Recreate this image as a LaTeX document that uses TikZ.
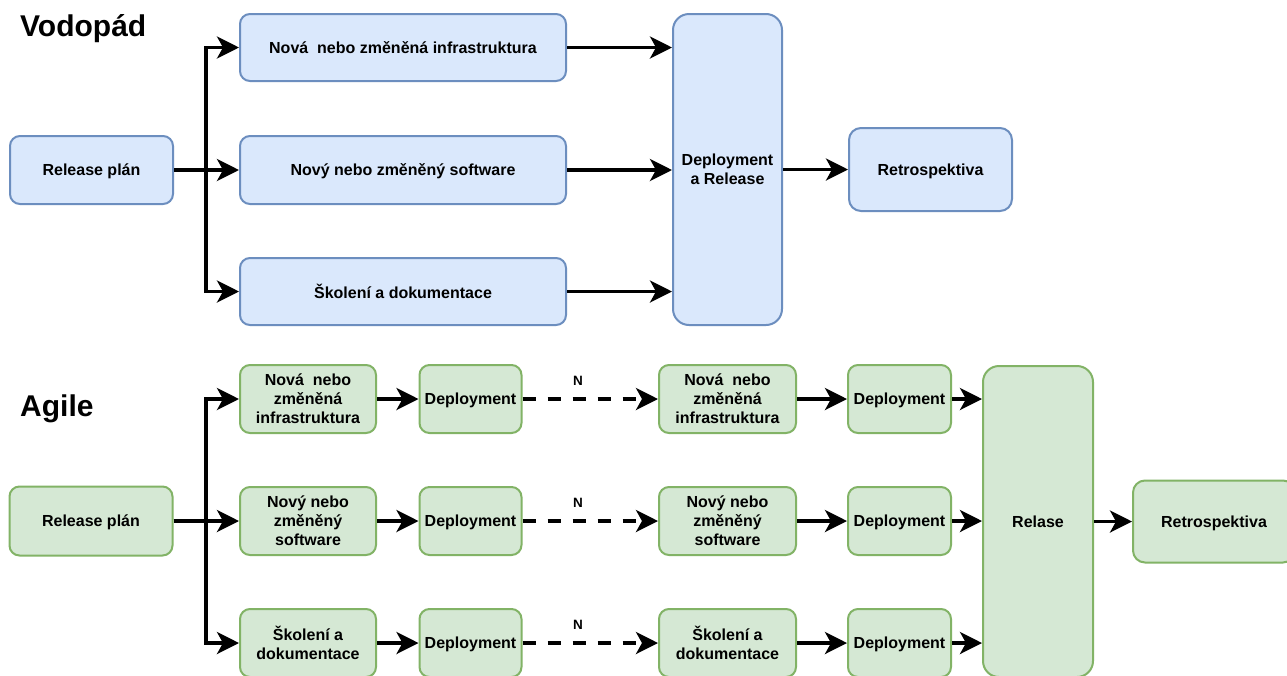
\documentclass[tikz,border=0pt]{standalone}
\usepackage{fontspec}
\setmainfont{Liberation Sans}
\usetikzlibrary{arrows.meta}

\definecolor{wfFill}{HTML}{DAE8FC}
\definecolor{wfLine}{HTML}{6C8EBF}
\definecolor{agFill}{HTML}{D5E8D4}
\definecolor{agLine}{HTML}{82B366}

\tikzset{
  box/.style={rectangle, rounded corners=10pt, line width=2pt, inner sep=0pt,
    text depth=0pt, align=center, font=\fontsize{16}{19}\selectfont\bfseries},
  wf/.style={box, draw=wfLine, fill=wfFill},
  ag/.style={box, draw=agLine, fill=agFill},
  arr/.style={line width=3.5pt, -{Stealth[length=22pt,width=22pt,inset=6pt]}},
  darr/.style={arr, dash pattern=on 13pt off 12pt},
  heading/.style={font=\fontsize{30}{36}\selectfont\bfseries, anchor=base west, inner sep=0pt},
  nlabel/.style={font=\fontsize{13.5}{16}\selectfont\bfseries, inner sep=0pt}
}

\begin{document}
\begin{tikzpicture}[x=1pt,y=-1pt]
\useasboundingbox (0,0) rectangle (1287,675);
\fill[white] (0,0) rectangle (1287,675);
\clip (0,0) rectangle (1287,675);

% ---------- Waterfall ----------
\node[heading] (tWf) at (20,36) {Vodopád};

\node[wf, minimum width=163pt, minimum height=68pt] (rp1) at (91.5,170) {Release plán};
\node[wf, minimum width=326pt, minimum height=67pt] (inf1) at (403,47.5) {Nová\ \ nebo změněná infrastruktura};
\node[wf, minimum width=326pt, minimum height=68pt] (sw1) at (403,170) {Nový nebo změněný software};
\node[wf, minimum width=326pt, minimum height=67pt] (sk1) at (403,291.5) {Školení a dokumentace};
\node[wf, rounded corners=16pt, minimum width=109pt, minimum height=311pt] (dr1) at (727.5,169.5) {Deployment\\a Release};
\node[wf, rounded corners=12pt, minimum width=163pt, minimum height=83pt] (re1) at (930.5,169.5) {Retrospektiva};

\coordinate (j1) at (206,170);
\draw[arr] (rp1.east) -- (j1) |- (inf1.west);
\draw[arr] (rp1.east) -- (sw1.west);
\draw[arr] (j1) |- (sk1.west);

\draw[arr] (inf1.east) -- (inf1.east -| dr1.west);
\draw[arr] (sw1.east) -- (sw1.east -| dr1.west);
\draw[arr] (sk1.east) -- (sk1.east -| dr1.west);
\draw[arr] (dr1.east |- re1.west) -- (re1.west);

% ---------- Agile ----------
\node[heading] (tAg) at (20,416.5) {Agile};

\node[ag, minimum width=163pt, minimum height=69pt] (rp2) at (91,521) {Release plán};

\node[ag, minimum width=136pt, minimum height=68pt] (a1) at (308,399) {Nová\ \ nebo\\změněná\\infrastruktura};
\node[ag, minimum width=136pt, minimum height=68pt] (a2) at (308,521) {Nový nebo\\změněný\\software};
\node[ag, minimum width=136pt, minimum height=68pt] (a3) at (308,643) {Školení a\\dokumentace};

\node[ag, minimum width=102pt, minimum height=68pt] (d1) at (470.5,399) {Deployment};
\node[ag, minimum width=102pt, minimum height=68pt] (d2) at (470.5,521) {Deployment};
\node[ag, minimum width=102pt, minimum height=68pt] (d3) at (470.5,643) {Deployment};

\node[ag, minimum width=137pt, minimum height=68pt] (b1) at (727.5,399) {Nová\ \ nebo\\změněná\\infrastruktura};
\node[ag, minimum width=137pt, minimum height=68pt] (b2) at (727.5,521) {Nový nebo\\změněný\\software};
\node[ag, minimum width=137pt, minimum height=68pt] (b3) at (727.5,643) {Školení a\\dokumentace};

\node[ag, minimum width=103pt, minimum height=68pt] (e1) at (899.5,399) {Deployment};
\node[ag, minimum width=103pt, minimum height=68pt] (e2) at (899.5,521) {Deployment};
\node[ag, minimum width=103pt, minimum height=68pt] (e3) at (899.5,643) {Deployment};

\node[ag, rounded corners=16pt, minimum width=110pt, minimum height=311pt] (rel) at (1038,521.5) {Relase};
\node[ag, rounded corners=12pt, minimum width=162pt, minimum height=82pt] (re2) at (1214,521.5) {Retrospektiva};

\node[nlabel] (n1) at (578,381) {N};
\node[nlabel] (n2) at (578,503) {N};
\node[nlabel] (n3) at (578,625) {N};

\coordinate (j2) at (206,521);
\draw[arr] (rp2.east) -- (j2) |- (a1.west);
\draw[arr] (rp2.east) -- (a2.west);
\draw[arr] (j2) |- (a3.west);

\draw[arr] (a1.east) -- (d1.west);
\draw[arr] (a2.east) -- (d2.west);
\draw[arr] (a3.east) -- (d3.west);

\draw[darr] (d1.east) -- (b1.west);
\draw[darr] (d2.east) -- (b2.west);
\draw[darr] (d3.east) -- (b3.west);

\draw[arr] (b1.east) -- (e1.west);
\draw[arr] (b2.east) -- (e2.west);
\draw[arr] (b3.east) -- (e3.west);

\draw[arr] (e1.east) -- (e1.east -| rel.west);
\draw[arr] (e2.east) -- (e2.east -| rel.west);
\draw[arr] (e3.east) -- (e3.east -| rel.west);

\draw[arr] (rel.east |- re2.west) -- (re2.west);
\end{tikzpicture}
\end{document}
